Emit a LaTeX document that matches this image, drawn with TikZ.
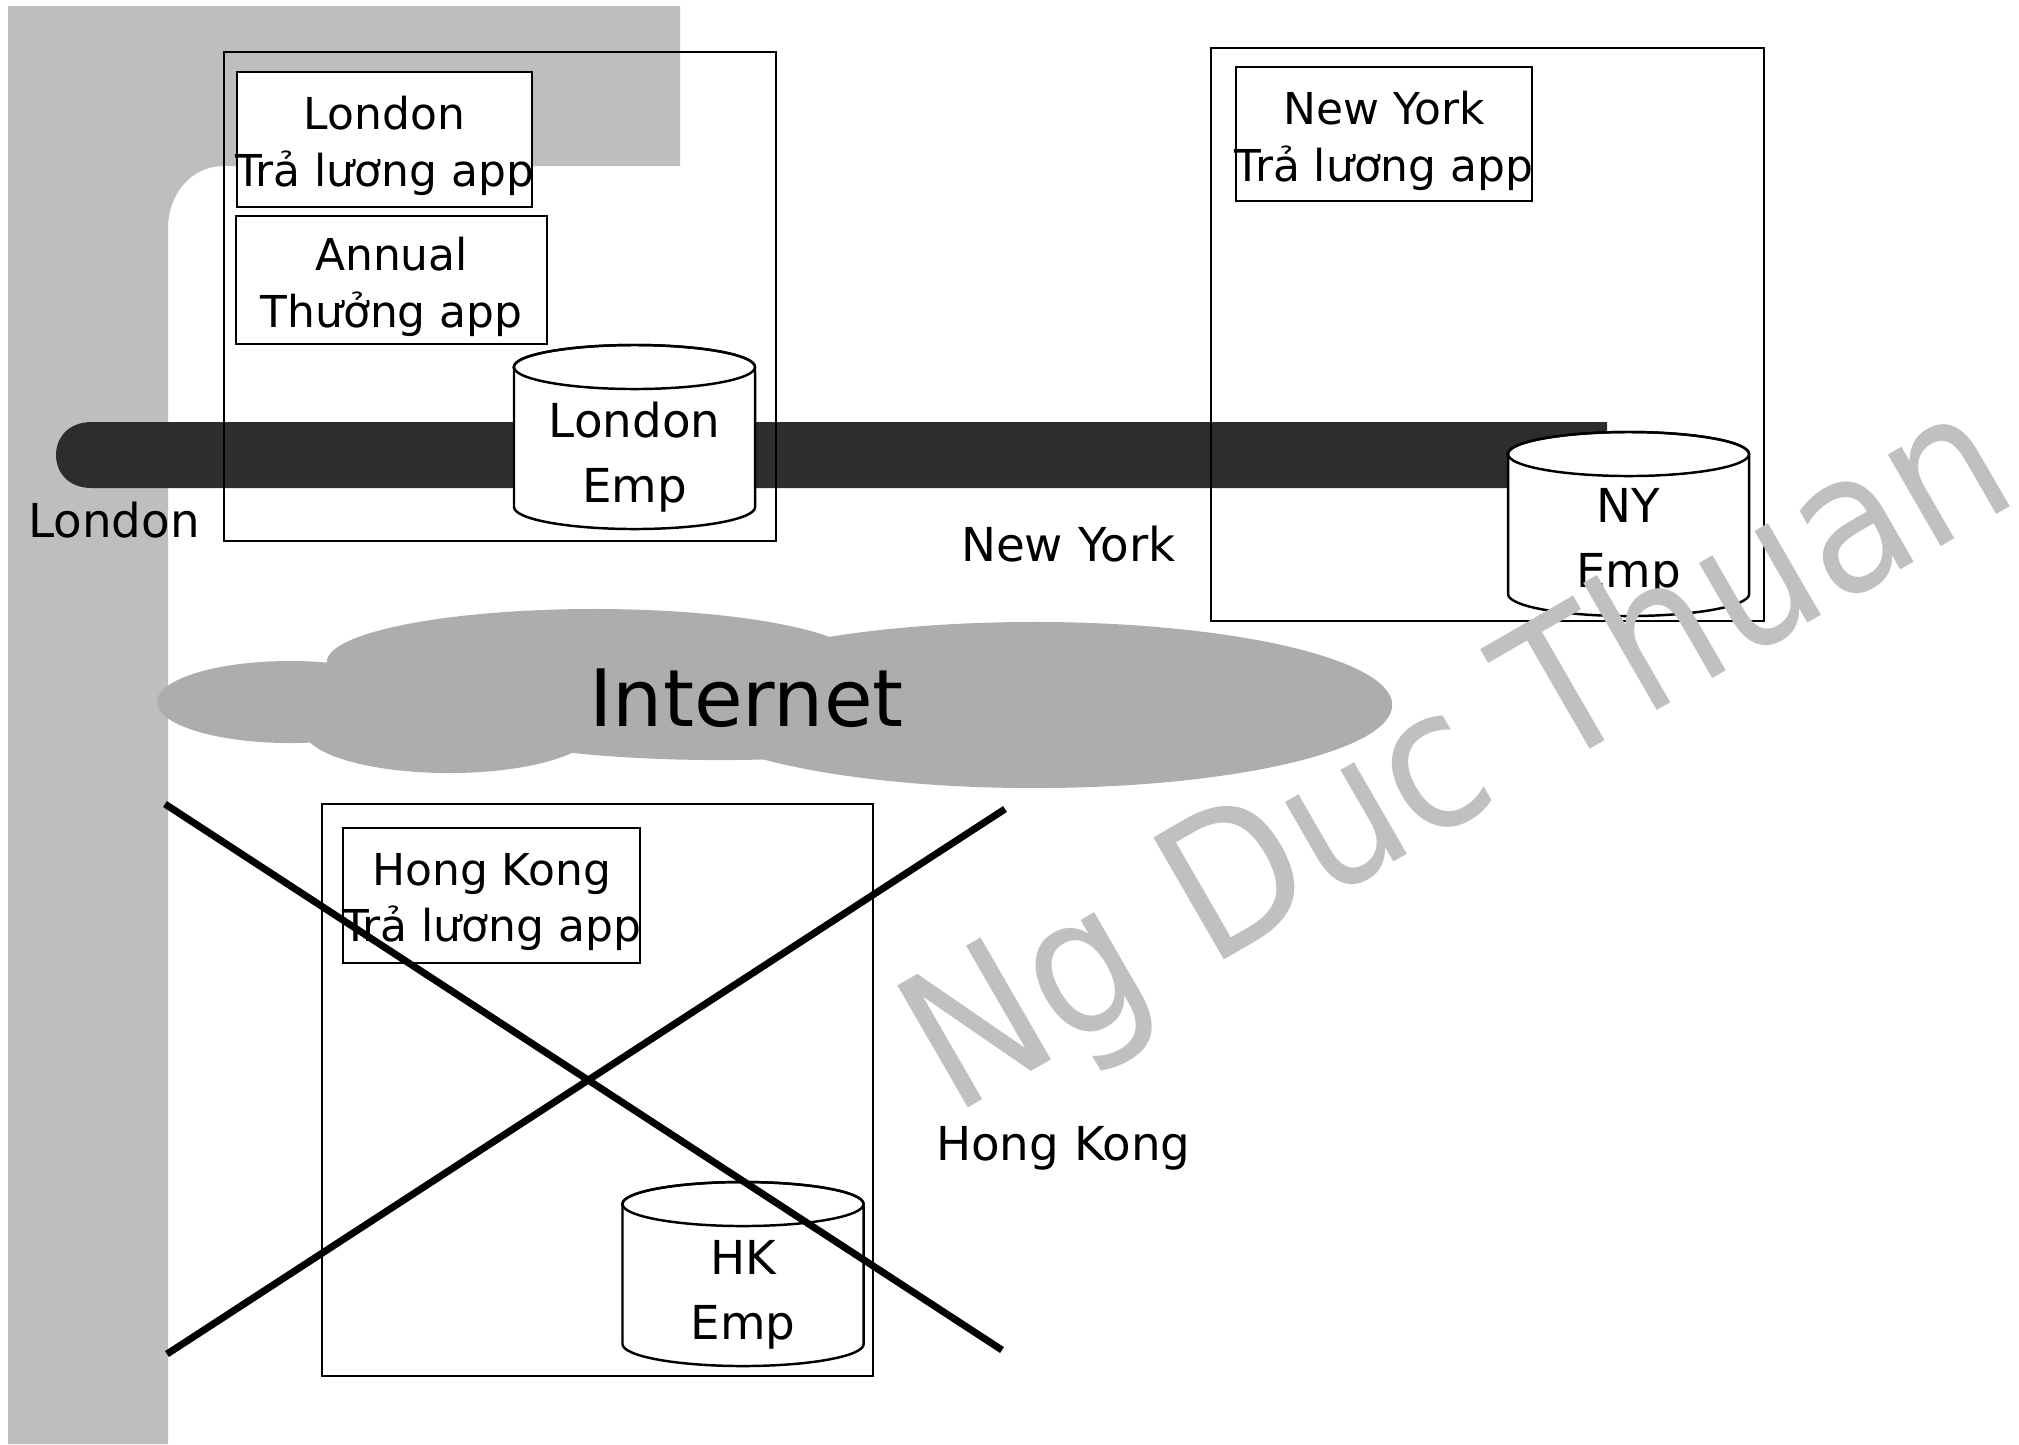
\documentclass[tikz,border=0pt]{standalone}
\usepackage{fontspec}
\setmainfont{DejaVu Sans}
\newfontfamily\MarkFont{DejaVu Sans}[FakeStretch=0.9]
\usepackage{tikz}
\usepackage{xcolor}
\definecolor{ColRail}{RGB}{190,190,190}
\definecolor{ColBus}{RGB}{45,45,45}
\definecolor{ColCloud}{RGB}{173,173,173}
\definecolor{ColMark}{RGB}{192,192,192}
\tikzstyle{SiteBox}=[draw,line width=0.6pt,inner sep=0pt]
\tikzstyle{AppBox}=[draw,fill=white,line width=0.6pt,inner sep=0pt]
\tikzstyle{AppText}=[align=center,inner sep=0pt,yshift=-0.065cm,
font=\fontsize{12.5pt}{16.2pt}\selectfont]
\tikzstyle{DrumLine}=[line width=0.7pt]
\tikzstyle{DrumText}=[align=center,inner sep=0pt,font=\fontsize{13.3pt}{18.4pt}\selectfont]
\tikzstyle{CityText}=[anchor=base,inner sep=0pt,font=\fontsize{13.3pt}{16pt}\selectfont]
\tikzstyle{CrossLine}=[line width=2pt]
\newcommand{\DrawDrum}[2]{%
  \draw[DrumLine,fill=white]({#1-120.5},#2)--({#1-120.5},{#2+140})
    arc[start angle=180,end angle=360,x radius=1.205cm,y radius=0.22cm]
    --({#1+120.5},#2)
    arc[start angle=0,end angle=180,x radius=1.205cm,y radius=0.22cm]--cycle;
  \draw[DrumLine](#1,#2)ellipse[x radius=1.205cm,y radius=0.22cm];}

\begin{document}
\begin{tikzpicture}[x=0.01cm,y=-0.01cm]
        \useasboundingbox(0,0)rectangle(2019,1444);
        \fill[ColRail](8,6)--(680,6)--(680,166)--(224,166)
            ..controls(190,166)and(168,195)..(168,229)--(168,1444)--(8,1444)--cycle;
        \fill[ColBus](1607,422)--(92,422)..controls(66,422)and(56,440)..(56,455)
            ..controls(56,470)and(66,488)..(92,488)--(1607,488)--cycle;
        \fill[ColCloud](290,702)ellipse[x radius=1.33cm,y radius=0.41cm]
            (594,662)ellipse[x radius=2.67cm,y radius=0.53cm]
            (449,730)ellipse[x radius=1.45cm,y radius=0.43cm]
            (720,705)ellipse[x radius=3cm,y radius=0.55cm]
            (1034,705)ellipse[x radius=3.58cm,y radius=0.83cm];
        \node[SiteBox,minimum width=5.52cm,minimum height=4.89cm](ldnsite)at(500,296.5){};
        \node[SiteBox,minimum width=5.53cm,minimum height=5.73cm](nysite)at(1487.5,334.5){};
        \node[SiteBox,minimum width=5.51cm,minimum height=5.72cm](hksite)at(597.5,1090){};
        \node[AppBox,minimum width=2.956cm,minimum height=1.35cm,
            label={[AppText]center:London\\Trả lương app}](ldnpay)at(384.5,139.8){};
        \node[AppBox,minimum width=3.11cm,minimum height=1.28cm,
            label={[AppText]center:Annual\\Thưởng app}](ldnbonus)at(391.5,280){};
        \node[AppBox,minimum width=2.96cm,minimum height=1.34cm,
            label={[AppText]center:New York\\Trả lương app}](nypay)at(1384,134){};
        \node[AppBox,minimum width=2.967cm,minimum height=1.344cm,
            label={[AppText]center:Hong Kong\\Trả lương app}](hkpay)at(491.7,895.5){};
        \DrawDrum{634.5}{367}
        \DrawDrum{1628.5}{454}
        \DrawDrum{743}{1204}
        \node[DrumText](ldnemp)at(634.5,457){London\\Emp};
        \node[DrumText](nyemp)at(1628.5,543){NY\\Emp};
        \node[DrumText](hkemp)at(743,1295){HK\\Emp};
        \node[CityText](ldnname)at(114,537){London};
        \node[CityText](nyname)at(1068.3,561.7){New York};
        \node[CityText](hkname)at(1063.3,1160){Hong Kong};
        \node[anchor=base,font=\fontsize{22.5pt}{27pt}\selectfont](inet)at(746.7,726.7){Internet};
        \coordinate(xnw)at(165,804);
        \coordinate(xse)at(1002,1350);
        \coordinate(xsw)at(167,1354);
        \coordinate(xne)at(1005,809);
        \draw[CrossLine](xnw)--(xse);
        \draw[CrossLine](xsw)--(xne);
        \node[anchor=base,rotate=30,text=ColMark,inner sep=0pt,
            font=\MarkFont\fontsize{55pt}{60pt}\selectfont](mark)at(1488,808){Ng Duc Thuan};
    \end{tikzpicture}
\end{document}
